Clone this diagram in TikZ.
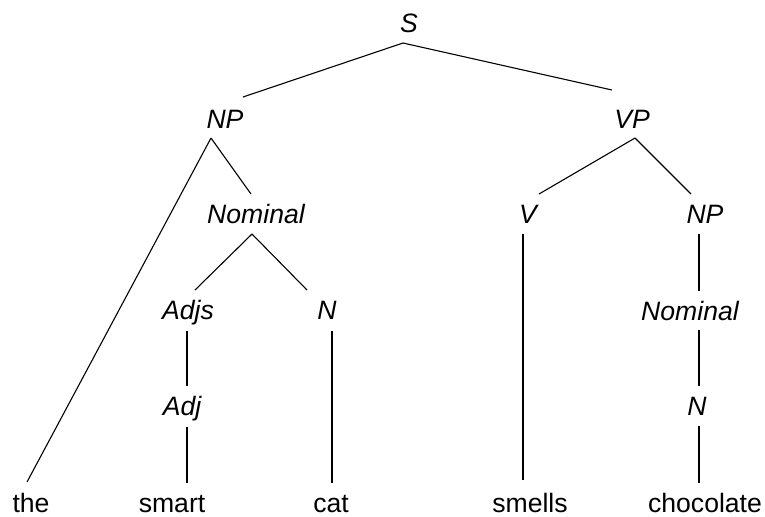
\documentclass[tikz,border=0pt]{standalone}
\usepackage{fontspec}
\setmainfont{Liberation Sans}
\begin{document}
\begin{tikzpicture}[x=0.5pt,y=-0.5pt,
  lab/.style={inner sep=0pt, anchor=base, font=\fontsize{13.3}{16}\selectfont},
  cat/.style={lab, font=\fontsize{13.3}{16}\selectfont\itshape},
  edge/.style={draw=black, line width=0.55pt}]
\useasboundingbox (0,0) rectangle (765,516);

% category labels
\node[cat] (S)    at (409,32)  {S};
\node[cat] (NP)   at (225,128) {NP};
\node[cat] (VP)   at (632,128) {VP};
\node[cat] (Nom)  at (256,223) {Nominal};
\node[cat] (V)    at (528,223) {V};
\node[cat] (NPb)  at (705,223) {NP};
\node[cat] (Adjs) at (188,319) {Adjs};
\node[cat] (N)    at (327,319) {N};
\node[cat] (Nomb) at (690,320) {Nominal};
\node[cat] (Adj)  at (182,415) {Adj};
\node[cat] (Nb)   at (697,415) {N};

% words
\node[lab] (the)   at (31,512)  {the};
\node[lab] (smart) at (172,512) {smart};
\node[lab] (catw)  at (331,512) {cat};
\node[lab] (smells) at (530,512) {smells};
\node[lab] (choc)  at (705,512) {chocolate};

% attachment points below (-b) and above (-t) the labels
\coordinate (S-b)    at (403,43);
\coordinate (NP-t)   at (243,97);
\coordinate (NP-b)   at (211,138);
\coordinate (VP-t)   at (612,90);
\coordinate (VP-b)   at (635,138);
\coordinate (Nom-t)  at (251,194);
\coordinate (Nom-b)  at (252,234);
\coordinate (V-t)    at (539,194);
\coordinate (V-b)    at (523,234);
\coordinate (NPb-t)  at (691,194);
\coordinate (NPb-b)  at (699,234);
\coordinate (Adjs-t) at (195,290);
\coordinate (Adjs-b) at (187,331);
\coordinate (N-t)    at (307,290);
\coordinate (N-b)    at (332,331);
\coordinate (Nomb-t) at (699,291);
\coordinate (Nomb-b) at (699,330);
\coordinate (Adj-t)  at (187,386);
\coordinate (Adj-b)  at (187,427);
\coordinate (Nb-t)   at (699,386);
\coordinate (Nb-b)   at (699,426);
\coordinate (the-t)  at (27,482);
\coordinate (smart-t) at (187,483);
\coordinate (catw-t) at (332,483);
\coordinate (smells-t) at (523,480);
\coordinate (choc-t) at (699,483);

% branches
\draw[edge] (S-b) -- (NP-t);
\draw[edge] (S-b) -- (VP-t);
\draw[edge] (NP-b) -- (the-t);
\draw[edge] (NP-b) -- (Nom-t);
\draw[edge] (VP-b) -- (V-t);
\draw[edge] (VP-b) -- (NPb-t);
\draw[edge] (Nom-b) -- (Adjs-t);
\draw[edge] (Nom-b) -- (N-t);
\draw[edge] (V-b) -- (smells-t);
\draw[edge] (NPb-b) -- (Nomb-t);
\draw[edge] (Adjs-b) -- (Adj-t);
\draw[edge] (N-b) -- (catw-t);
\draw[edge] (Nomb-b) -- (Nb-t);
\draw[edge] (Adj-b) -- (smart-t);
\draw[edge] (Nb-b) -- (choc-t);
\end{tikzpicture}
\end{document}
